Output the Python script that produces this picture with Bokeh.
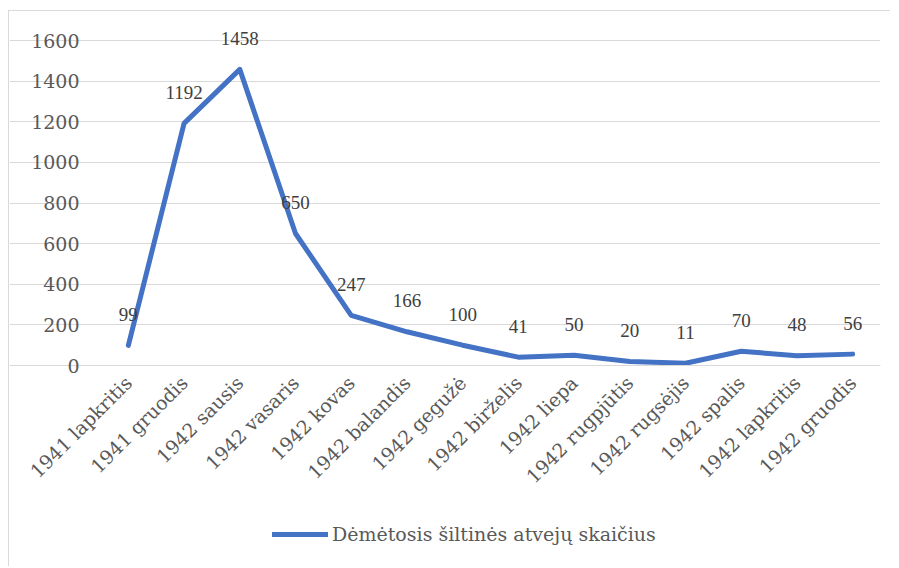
from math import pi
from bokeh.plotting import figure
from bokeh.models import ColumnDataSource, Legend, LegendItem, FixedTicker, Range1d, LabelSet
from bokeh.embed import file_html
from bokeh.resources import INLINE

months = ["1941 lapkritis", "1941 gruodis", "1942 sausis", "1942 vasaris", "1942 kovas",
          "1942 balandis", "1942 gegužė", "1942 birželis", "1942 liepa", "1942 rugpjūtis",
          "1942 rugsėjis", "1942 spalis", "1942 lapkritis", "1942 gruodis"]
cases = [99, 1192, 1458, 650, 247, 166, 100, 41, 50, 20, 11, 70, 48, 56]
y_ticks = [0, 200, 400, 600, 800, 1000, 1200, 1400, 1600]
series_name = "Dėmėtosis šiltinės atvejų skaičius"

FONT = "DejaVu Serif"
TXT = "#595959"
GRID = "#d9d9d9"
BLUE = "#4472C4"

n = len(months)
pos = list(range(n))
# plot area: 780 px wide for n categories, 325 px tall for 0..1600
UPX = n / 780
UPY = 1600 / 325
src = ColumnDataSource(dict(x=pos, v=cases, lab=[str(c) for c in cases]))

p = figure(x_range=Range1d(-0.5 - 91 * UPX, n - 0.5),
           y_range=Range1d(-201 * UPY, 1600 + 29 * UPY),
           frame_width=871, frame_height=555,
           output_backend="svg", toolbar_location=None,
           min_border_left=0, min_border_right=10, min_border_top=0, min_border_bottom=0,
           background_fill_color="white", border_fill_color="white")
p.styles = {"margin-left": "8px", "margin-top": "10px",
            "border-top": f"1px solid {GRID}", "border-left": f"1px solid {GRID}"}
p.outline_line_color = None

r = p.line("x", "v", source=src, line_color=BLUE, line_width=5, line_cap="round", line_join="round")
labels = LabelSet(x="x", y="v", text="lab", source=src, y_offset=31, text_align="center",
                  text_baseline="middle", text_font=FONT, text_font_size="19px",
                  text_color="#404040")
p.add_layout(labels)

p.yaxis.fixed_location = -0.5
p.yaxis.ticker = FixedTicker(ticks=y_ticks)
p.yaxis.axis_line_color = None
p.yaxis.major_tick_line_color = None
p.yaxis.minor_tick_line_color = None
p.yaxis.major_label_standoff = 15
p.yaxis.major_label_text_font = FONT
p.yaxis.major_label_text_font_size = "19px"
p.yaxis.major_label_text_color = TXT

p.xaxis.fixed_location = 0
p.xaxis.ticker = FixedTicker(ticks=pos)
p.xaxis.major_label_overrides = {i: m for i, m in zip(pos, months)}
p.xaxis.bounds = (-0.5, n - 0.5)
p.xaxis.axis_line_color = GRID
p.xaxis.major_tick_line_color = None
p.xaxis.minor_tick_line_color = None
p.xaxis.major_label_orientation = pi / 4
p.xaxis.major_label_standoff = 8
p.xaxis.major_label_text_font = FONT
p.xaxis.major_label_text_font_size = "19px"
p.xaxis.major_label_text_color = TXT

p.xgrid.grid_line_color = None
p.ygrid.grid_line_color = GRID
p.ygrid.grid_line_width = 1
p.ygrid.bounds = (-0.5, n - 0.5)

legend = Legend(items=[LegendItem(label=series_name, renderers=[r])], location=(263, 21),
                orientation="horizontal", border_line_color=None, background_fill_alpha=0,
                label_text_font=FONT, label_text_font_size="19px", label_text_color=TXT,
                glyph_width=56, label_standoff=4, margin=0, padding=0)
p.add_layout(legend)

open("out.html", "w").write(file_html(p, INLINE))
